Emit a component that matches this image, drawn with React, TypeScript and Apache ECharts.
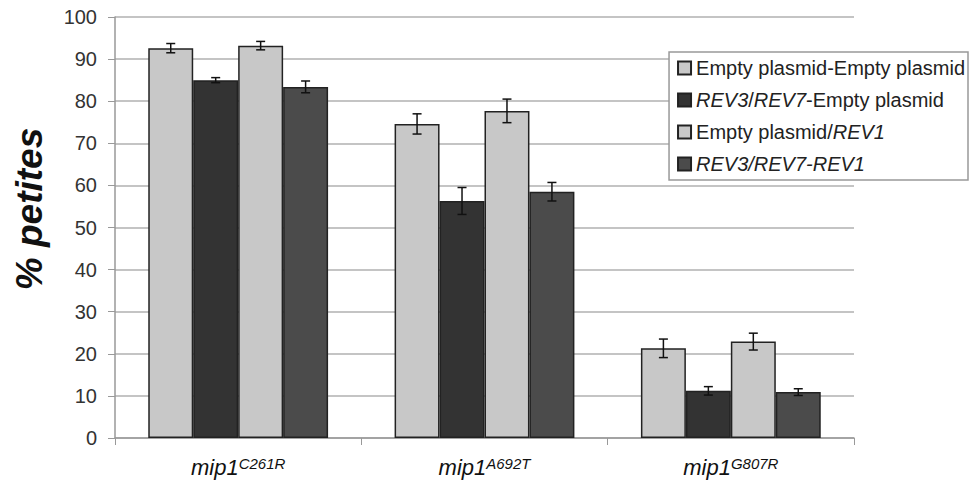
import React, { useEffect, useRef } from "react";
import * as echarts from "echarts";

const categories = ["C261R", "A692T", "G807R"];
const seriesNames = [
  "Empty plasmid-Empty plasmid",
  "REV3/REV7-Empty plasmid",
  "Empty plasmid/REV1",
  "REV3/REV7-REV1",
];
const legendLabels = [
  "Empty plasmid-Empty plasmid",
  "{i|REV3}/{i|REV7}-Empty plasmid",
  "Empty plasmid/{i|REV1}",
  "{i|REV3/REV7-REV1}",
];
const emptyEmpty = [92.6, 74.6, 21.3];
const revEmpty = [85.0, 56.3, 11.2];
const emptyRev1 = [93.2, 77.7, 22.9];
const revRev1 = [83.4, 58.5, 10.9];
const errEmptyEmpty = [1.1, 2.4, 2.2];
const errRevEmpty = [0.6, 3.2, 1.0];
const errEmptyRev1 = [1.0, 2.8, 2.0];
const errRevRev1 = [1.4, 2.2, 0.8];
const yTicks = [0, 10, 20, 30, 40, 50, 60, 70, 80, 90, 100];

const seriesValues = [emptyEmpty, revEmpty, emptyRev1, revRev1];
const seriesErrors = [errEmptyEmpty, errRevEmpty, errEmptyRev1, errRevRev1];
const seriesColors = ["#c8c8c8", "#333333", "#c8c8c8", "#4b4b4b"];

const FONT = "'Liberation Sans', Arial, sans-serif";
const CAT_GAP = 0.27;

export default function App() {
  const ref = useRef<HTMLDivElement>(null);
  useEffect(() => {
    if (!ref.current) return;
    const chart = echarts.init(ref.current, undefined, { renderer: "svg" });

    const errData: number[][] = [];
    seriesValues.forEach((vals, s) => {
      vals.forEach((v, c) => errData.push([c, v, seriesErrors[s][c], s]));
    });

    const barSeries = seriesValues.map((vals, s) => ({
      name: seriesNames[s],
      type: "bar",
      data: vals,
      barGap: "0%",
      barCategoryGap: CAT_GAP * 100 + "%",
      itemStyle: { color: seriesColors[s], borderColor: "#222", borderWidth: 1.5 },
    }));

    chart.setOption({
      animation: false,
      textStyle: { fontFamily: FONT },
      grid: { left: 115, right: 115, top: 17, bottom: 48 },
      legend: {
        orient: "vertical",
        right: 1,
        top: 52,
        data: seriesNames,
        icon: "rect",
        itemWidth: 13,
        itemHeight: 13,
        itemGap: 8,
        backgroundColor: "#fff",
        borderColor: "#999",
        borderWidth: 1.5,
        borderRadius: 0,
        padding: [4, 3, 4, 8],
        formatter: (name: string) => legendLabels[seriesNames.indexOf(name)],
        textStyle: {
          fontFamily: FONT,
          fontSize: 20,
          color: "#222",
          lineHeight: 24,
          rich: {
            i: { fontStyle: "italic", fontFamily: FONT, fontSize: 20, color: "#222", lineHeight: 24 },
          },
        },
      },
      xAxis: {
        type: "category",
        data: categories,
        axisLine: { show: true, lineStyle: { color: "#999", width: 1.5 } },
        axisTick: { show: true, length: 7, lineStyle: { color: "#999" } },
        axisLabel: {
          margin: 16,
          formatter: (v: string) => `{m|mip1}{s|${v}}`,
          rich: {
            m: { fontFamily: FONT, fontStyle: "italic", fontSize: 22, color: "#111", lineHeight: 26 },
            s: {
              fontFamily: FONT,
              fontStyle: "italic",
              fontSize: 15,
              color: "#111",
              lineHeight: 16,
              padding: [0, 0, 7, 0],
            },
          },
        },
      },
      yAxis: {
        type: "value",
        min: yTicks[0],
        max: yTicks[yTicks.length - 1],
        interval: yTicks[1] - yTicks[0],
        axisLine: { show: true, lineStyle: { color: "#999", width: 1.5 } },
        axisTick: { show: true, length: 7, lineStyle: { color: "#999" } },
        axisLabel: { margin: 18, fontSize: 20, color: "#333", fontFamily: FONT },
        splitLine: { show: true, lineStyle: { color: "#b0b0b0", width: 1.5 } },
      },
      graphic: [
        {
          type: "text",
          x: 29,
          y: 209,
          rotation: Math.PI / 2,
          style: {
            text: "% petites",
            fontFamily: FONT,
            fontSize: 37,
            fontWeight: "bold",
            fontStyle: "italic",
            fill: "#111",
            align: "center",
            verticalAlign: "middle",
          },
        },
      ],
      series: [
        ...barSeries,
        {
          type: "custom",
          name: "err",
          z: 5,
          data: errData,
          encode: { x: 0, y: 1 },
          renderItem: (params: any, api: any) => {
            const c = api.value(0);
            const v = api.value(1);
            const e = api.value(2);
            const s = api.value(3);
            const band = api.size([1, 0])[0];
            const bw = (band * (1 - CAT_GAP)) / 4;
            const base = api.coord([c, v]);
            const x = base[0] + (s - 1.5) * bw;
            const yHi = api.coord([c, v + e])[1];
            const yLo = api.coord([c, v - e])[1];
            const cap = 4.5;
            const st = { stroke: "#111", lineWidth: 1.5 };
            return {
              type: "group",
              children: [
                { type: "line", shape: { x1: x, y1: yHi, x2: x, y2: yLo }, style: st },
                { type: "line", shape: { x1: x - cap, y1: yHi, x2: x + cap, y2: yHi }, style: st },
                { type: "line", shape: { x1: x - cap, y1: yLo, x2: x + cap, y2: yLo }, style: st },
              ],
            };
          },
        },
      ],
    });
    return () => chart.dispose();
  }, []);
  return (
    <div
      ref={ref}
      style={{ position: "fixed", left: 0, top: 0, width: 969, height: 486, background: "#fff" }}
    />
  );
}
